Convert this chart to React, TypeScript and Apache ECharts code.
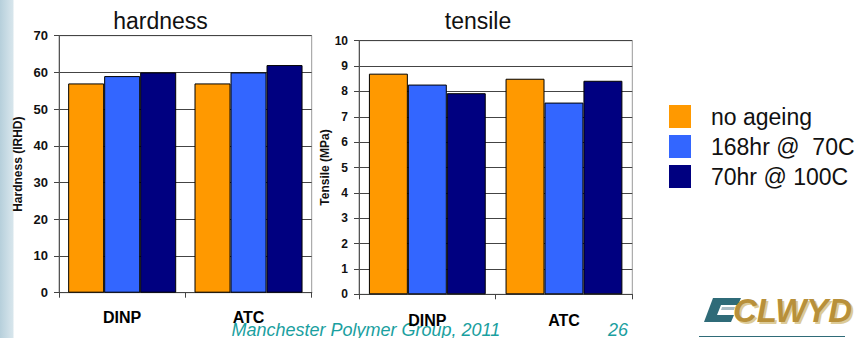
import React, { useEffect, useRef } from "react";
import * as echarts from "echarts";

const categories = ["DINP", "ATC"];
const seriesNames = ["no ageing", "168hr @  70C", "70hr @ 100C"];
const seriesColors = ["#FF9900", "#3366FF", "#000080"];
const hardnessValues = [
  [57, 57],
  [59, 60],
  [60, 62],
];
const tensileValues = [
  [8.7, 8.5],
  [8.27, 7.56],
  [7.93, 8.42],
];
const hardnessTicks = { min: 0, max: 70, interval: 10 };
const tensileTicks = { min: 0, max: 10, interval: 1 };

const FONT = "'Liberation Sans', Arial, Helvetica, sans-serif";

export default function App() {
  const ref = useRef<HTMLDivElement>(null);
  useEffect(() => {
    if (!ref.current) return;
    const chart = echarts.init(ref.current, undefined, { renderer: "svg" });

    const mkY = (grid: number, ticks: any, name: string, gap: number, fs: number) => ({
      type: "value",
      gridIndex: grid,
      min: ticks.min,
      max: ticks.max,
      interval: ticks.interval,
      name,
      nameLocation: "middle",
      nameGap: gap,
      nameTextStyle: { fontFamily: FONT, fontWeight: "bold", fontSize: 12, color: "#111" },
      axisLine: { show: true, lineStyle: { color: "#555", width: 1 } },
      axisTick: { show: true, length: 5, lineStyle: { color: "#444" } },
      axisLabel: { margin: 11, fontFamily: FONT, fontWeight: "bold", fontSize: fs, color: "#111" },
      splitLine: { show: true, lineStyle: { color: "#444", width: 1 } },
    });
    const mkX = (grid: number, margin: number) => ({
      type: "category",
      gridIndex: grid,
      data: categories,
      axisLine: { show: true, lineStyle: { color: "#444", width: 1.2 } },
      axisTick: { show: true, length: 5, lineStyle: { color: "#444" } },
      axisLabel: { margin, fontFamily: FONT, fontWeight: "bold", fontSize: 16, color: "#000" },
    });

    const series: any[] = [];
    [hardnessValues, tensileValues].forEach((vals, g) => {
      vals.forEach((v, i) => {
        series.push({
          type: "bar",
          name: seriesNames[i],
          xAxisIndex: g,
          yAxisIndex: g,
          data: v,
          barGap: "0%",
          barCategoryGap: "14.5%",
          itemStyle: { color: seriesColors[i], borderColor: "#000", borderWidth: 1 },
        });
      });
    });

    chart.setOption({
      animation: false,
      backgroundColor: "#fff",
      color: seriesColors,
      title: [
        {
          text: "hardness",
          left: 160.5,
          top: 9,
          textAlign: "center",
          padding: 0,
          textStyle: { fontFamily: FONT, fontWeight: "normal", fontSize: 23, color: "#111" },
        },
        {
          text: "tensile",
          left: 478,
          top: 9,
          textAlign: "center",
          padding: 0,
          textStyle: { fontFamily: FONT, fontWeight: "normal", fontSize: 23, color: "#111" },
        },
      ],
      legend: {
        orient: "vertical",
        left: 669,
        top: 105,
        padding: 0,
        itemWidth: 22,
        itemHeight: 23,
        itemGap: 7,
        icon: "rect",
        data: seriesNames,
        itemStyle: { borderWidth: 0 },
        textStyle: {
          fontFamily: FONT,
          fontSize: 23,
          lineHeight: 23,
          color: "#111",
          padding: [0, 0, 0, 15],
        },
      },
      grid: [
        { left: 59, top: 35.7, width: 252.7, height: 257, show: true, borderColor: "#999", borderWidth: 1, backgroundColor: "transparent" },
        { left: 359, top: 40.7, width: 273.3, height: 253.6, show: true, borderColor: "#999", borderWidth: 1, backgroundColor: "transparent" },
      ],
      xAxis: [mkX(0, 17), mkX(1, 18)],
      yAxis: [mkY(0, hardnessTicks, "Hardness (IRHD)", 35, 13), mkY(1, tensileTicks, "Tensile (MPa)", 23, 12)],
      series,
      graphic: [
        {
          type: "rect",
          shape: { x: 0, y: 0, width: 13.5, height: 338 },
          style: {
            fill: new echarts.graphic.LinearGradient(0, 0, 1, 0, [
              { offset: 0, color: "#b6cfdb" },
              { offset: 0.7, color: "#cfe0e8" },
              { offset: 1, color: "#d8e6ec" },
            ]),
          },
          silent: true,
        },
        {
          type: "text",
          x: 231.5,
          y: 330,
          style: {
            text: "Manchester Polymer Group, 2011",
            fontFamily: FONT,
            fontStyle: "italic",
            fontSize: 18,
            fill: "#1aa0a0",
            verticalAlign: "middle",
          },
          silent: true,
        },
        {
          type: "text",
          x: 608,
          y: 330,
          style: {
            text: "26",
            fontFamily: FONT,
            fontStyle: "italic",
            fontSize: 18,
            fill: "#1aa0a0",
            verticalAlign: "middle",
          },
          silent: true,
        },
        // logo
        {
          type: "polygon",
          shape: {
            points: [
              [713, 298], [741, 298], [738, 305], [721, 305], [717, 315], [734, 315], [731, 322], [704, 322],
            ],
          },
          style: { fill: "#2f6b78" },
          silent: true,
        },
        {
          type: "polygon",
          shape: { points: [[722, 307], [735, 307], [734, 310], [721, 310]] },
          style: { fill: "#a9bcc4" },
          silent: true,
        },
        {
          type: "text",
          x: 735,
          y: 312,
          style: {
            text: "CLWYD",
            fontFamily: FONT,
            fontStyle: "italic",
            fontWeight: "bold",
            fontSize: 33,
            fill: "#dccb98",
            verticalAlign: "middle",
          },
          silent: true,
        },
        {
          type: "text",
          x: 733,
          y: 310.5,
          style: {
            text: "CLWYD",
            fontFamily: FONT,
            fontStyle: "italic",
            fontWeight: "bold",
            fontSize: 33,
            fill: "#b8903a",
            verticalAlign: "middle",
          },
          silent: true,
        },
        {
          type: "line",
          shape: { x1: 699, y1: 336.5, x2: 845, y2: 336.5 },
          style: { stroke: "#2f6b78", lineWidth: 1 },
          silent: true,
        },
      ],
    });
    return () => chart.dispose();
  }, []);
  return (
    <div
      ref={ref}
      style={{ position: "fixed", left: 0, top: 0, width: 863, height: 338, overflow: "hidden", background: "#fff" }}
    />
  );
}
